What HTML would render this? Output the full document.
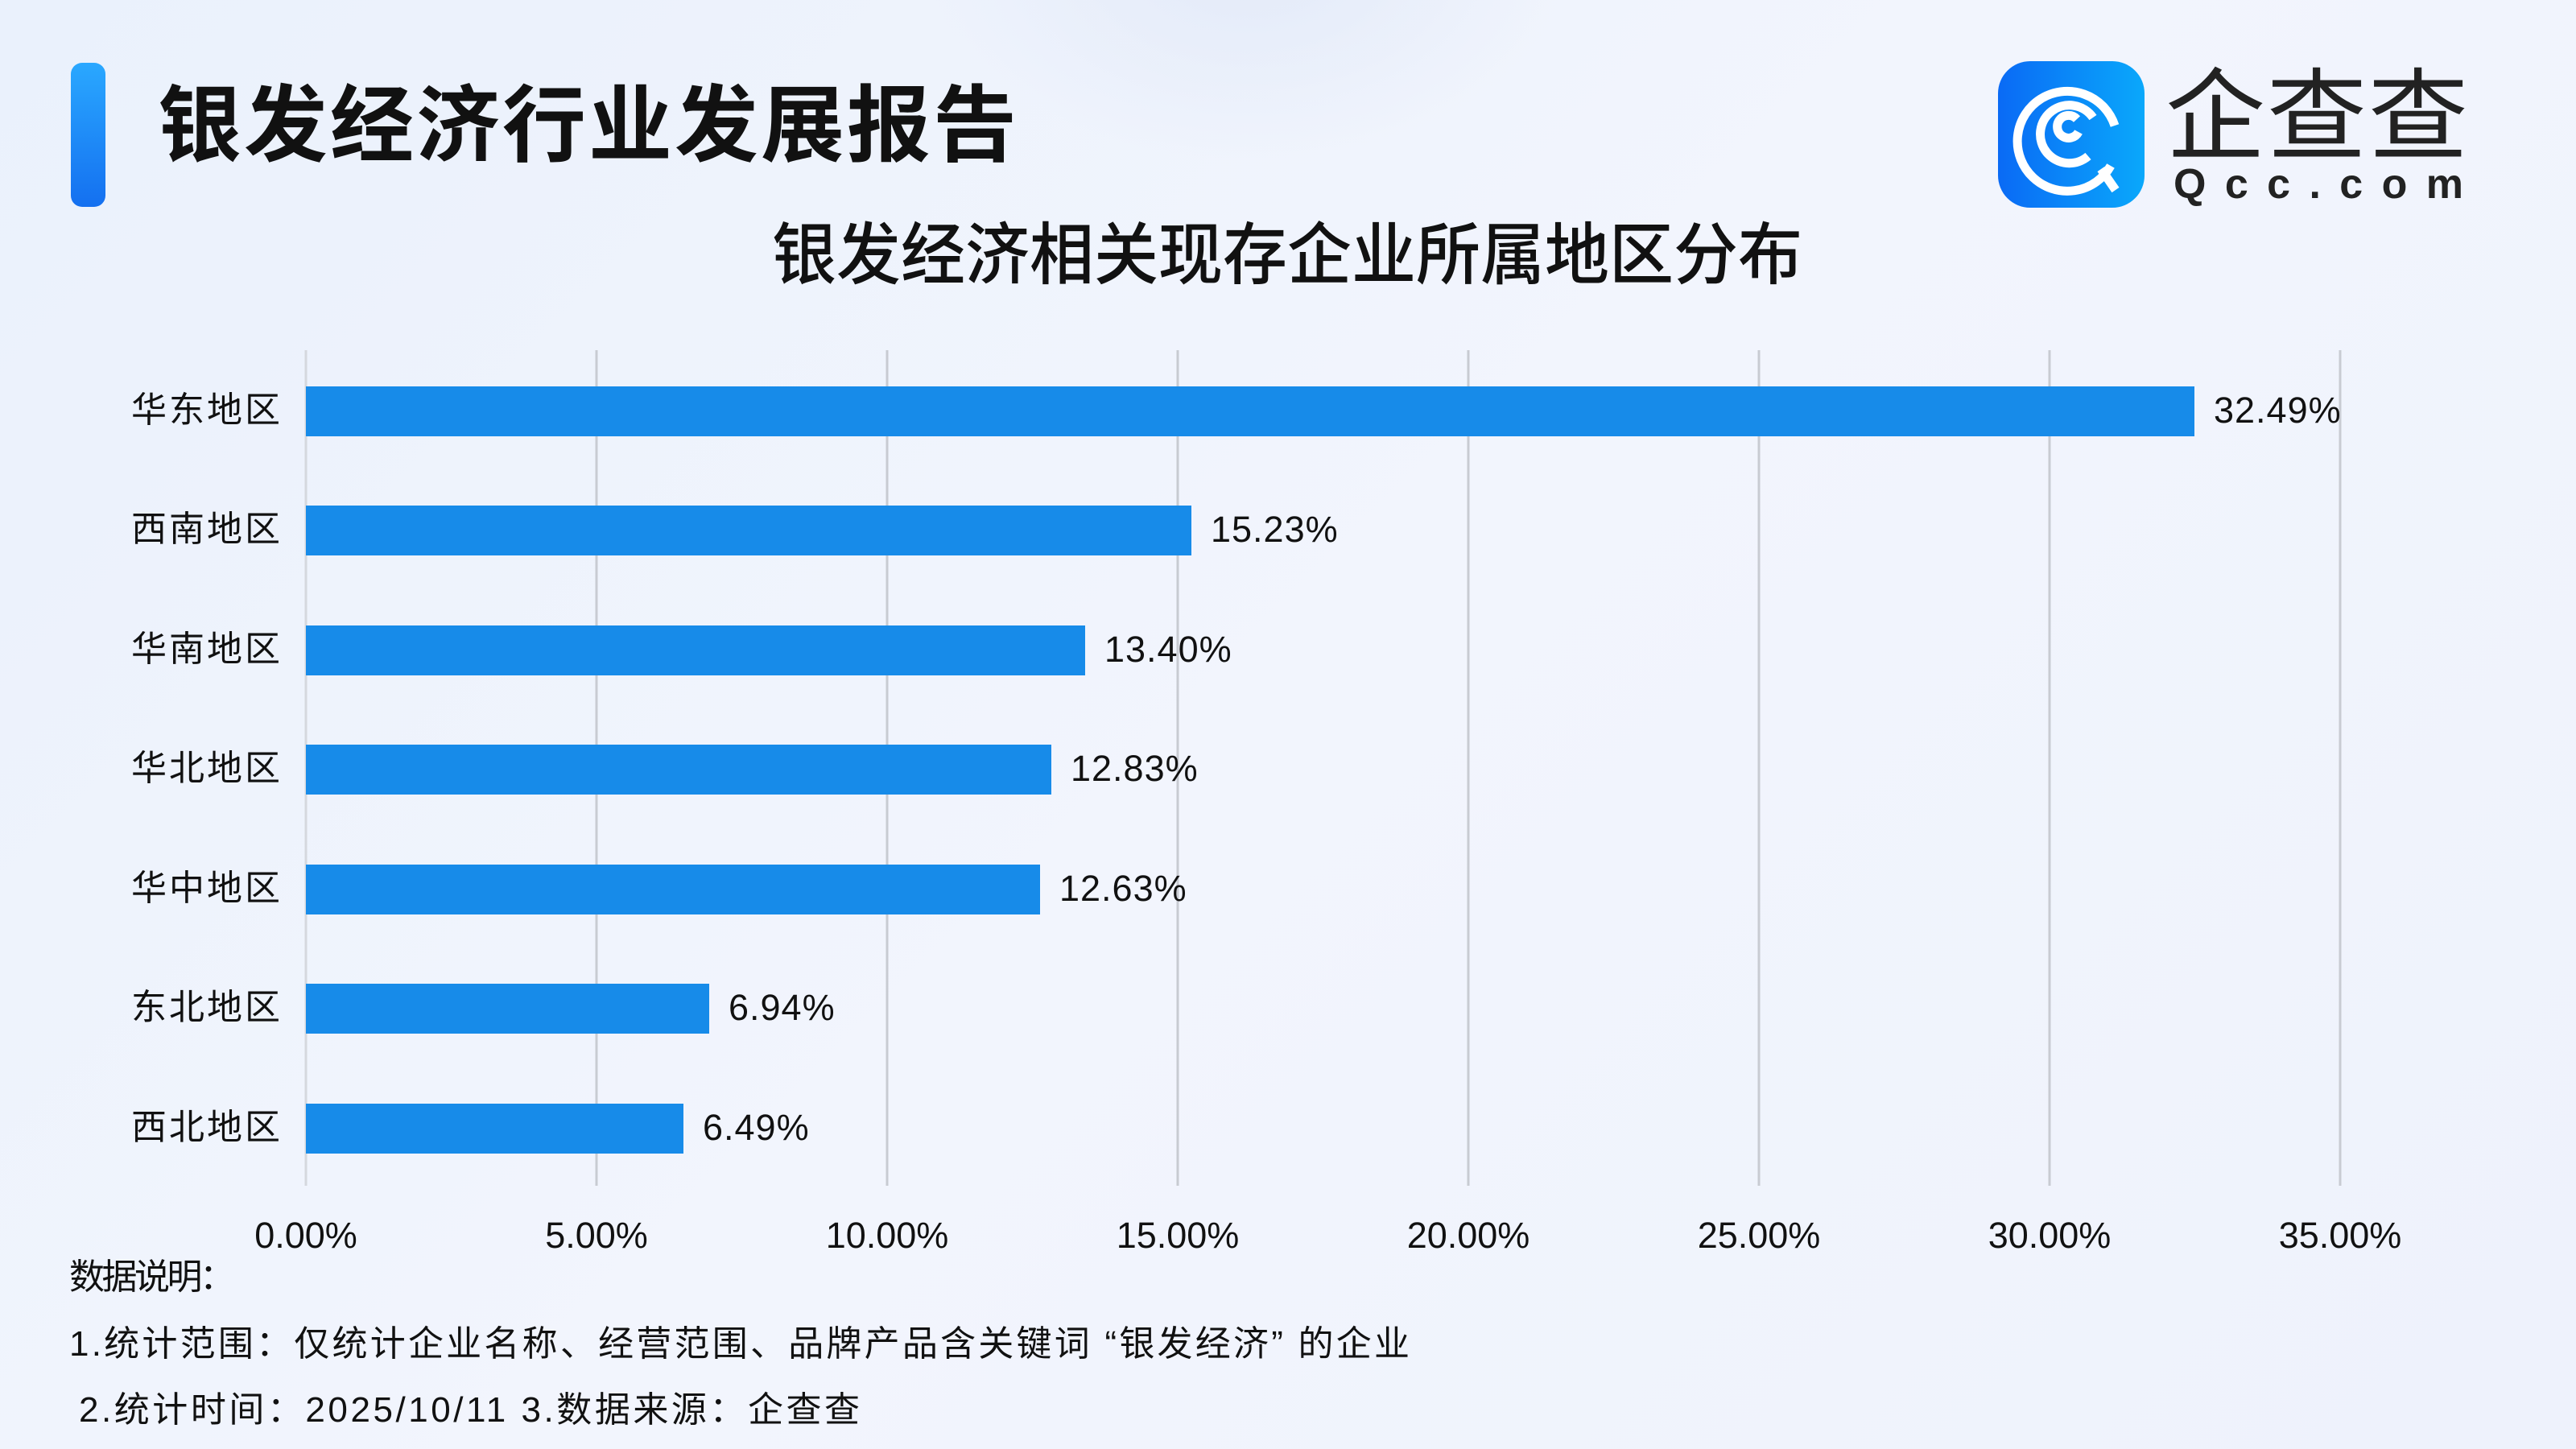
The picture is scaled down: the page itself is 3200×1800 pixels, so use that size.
<!DOCTYPE html>
<html><head><meta charset="utf-8"><style>
html,body{margin:0;padding:0}
body{width:3200px;height:1800px;position:relative;overflow:hidden;
background:linear-gradient(135deg,#eaf1fc 0%,#f2f5fd 50%,#eef2fc 100%);
font-family:"Liberation Sans","Noto Sans CJK SC",sans-serif;color:#111}
.a{position:absolute;white-space:nowrap}
</style></head><body>
<div class="a" style="left:1150px;top:-300px;width:800px;height:500px;border-radius:50%;background:radial-gradient(#e3eaf8,rgba(238,242,252,0) 70%)"></div>
<div class="a" style="left:88px;top:78px;width:43px;height:179px;border-radius:14px;background:linear-gradient(180deg,#2aa8ff,#1470f0)"></div>
<div class="a" style="left:196px;top:92px;font-size:104px;font-weight:bold;line-height:130px;letter-spacing:3px">银发经济行业发展报告</div>
<svg class="a" style="left:2482px;top:76px" width="182" height="182" viewBox="0 0 182 182">
<defs><linearGradient id="g" x1="0" x2="1"><stop offset="0" stop-color="#0a6af5"/><stop offset="1" stop-color="#0aa8fb"/></linearGradient></defs>
<rect width="182" height="182" rx="40" fill="url(#g)"/>
<g fill="none" stroke="#fff" stroke-width="11" stroke-linecap="butt">
<path d="M140 130 A62 62 0 1 1 145 80"/>
<path d="M112 118 A36 36 0 1 1 118 70"/>
<path d="M100 88 A14 14 0 1 1 98 72"/>
<path d="M128 134 L146 160"/>
</g></svg>
<div class="a" style="left:2690px;top:76px;font-size:124px;line-height:140px;color:#222;letter-spacing:2px">企查查</div>
<svg class="a" style="left:0;top:0" width="3200" height="1800">
<text x="959" y="346" font-size="84" font-weight="500" fill="#111" textLength="1280" lengthAdjust="spacingAndGlyphs" font-family="Liberation Sans,Noto Sans CJK SC,sans-serif">银发经济相关现存企业所属地区分布</text>
<text x="2700" y="246" font-size="52" font-weight="bold" fill="#222" textLength="360" lengthAdjust="spacing" font-family="Liberation Sans,sans-serif">Qcc.com</text>
<g stroke="#c8cbd2" stroke-width="3">
<line x1="380" y1="435" x2="380" y2="1473" stroke="#d5d8de"/>
<line x1="741" y1="435" x2="741" y2="1473"/><line x1="1102" y1="435" x2="1102" y2="1473"/>
<line x1="1463" y1="435" x2="1463" y2="1473"/><line x1="1824" y1="435" x2="1824" y2="1473"/>
<line x1="2185" y1="435" x2="2185" y2="1473"/><line x1="2546" y1="435" x2="2546" y2="1473"/>
<line x1="2907" y1="435" x2="2907" y2="1473"/>
</g>
<g fill="#178be9">
<rect x="380" y="480" width="2346" height="62"/>
<rect x="380" y="628" width="1100" height="62"/>
<rect x="380" y="777" width="968" height="62"/>
<rect x="380" y="925" width="926" height="62"/>
<rect x="380" y="1074" width="912" height="62"/>
<rect x="380" y="1222" width="501" height="62"/>
<rect x="380" y="1371" width="469" height="62"/>
</g>
<g font-size="44" fill="#111" font-family="Liberation Sans,Noto Sans CJK SC,sans-serif">
<g>
<text x="163" y="524" textLength="185">华东地区</text><text x="163" y="672" textLength="185">西南地区</text><text x="163" y="821" textLength="185">华南地区</text>
<text x="163" y="969" textLength="185">华北地区</text><text x="163" y="1118" textLength="185">华中地区</text><text x="163" y="1266" textLength="185">东北地区</text>
<text x="163" y="1415" textLength="185">西北地区</text></g>
<g font-size="45" letter-spacing="1">
<text x="2750" y="525">32.49%</text><text x="1504" y="673">15.23%</text><text x="1372" y="822">13.40%</text>
<text x="1330" y="970">12.83%</text><text x="1316" y="1119">12.63%</text><text x="905" y="1267">6.94%</text>
<text x="873" y="1416">6.49%</text></g>
<g text-anchor="middle" font-size="45">
<text x="380" y="1550">0.00%</text><text x="741" y="1550">5.00%</text><text x="1102" y="1550">10.00%</text>
<text x="1463" y="1550">15.00%</text><text x="1824" y="1550">20.00%</text><text x="2185" y="1550">25.00%</text>
<text x="2546" y="1550">30.00%</text><text x="2907" y="1550">35.00%</text></g>
<g font-size="44">
<text x="86" y="1601" textLength="206">数据说明：</text>
<text x="86" y="1684" textLength="1665">1.统计范围：仅统计企业名称、经营范围、品牌产品含关键词 “银发经济” 的企业</text>
<text x="98" y="1766" textLength="970">2.统计时间：2025/10/11  3.数据来源：企查查</text>
</g></g>
</svg>
</body></html>
